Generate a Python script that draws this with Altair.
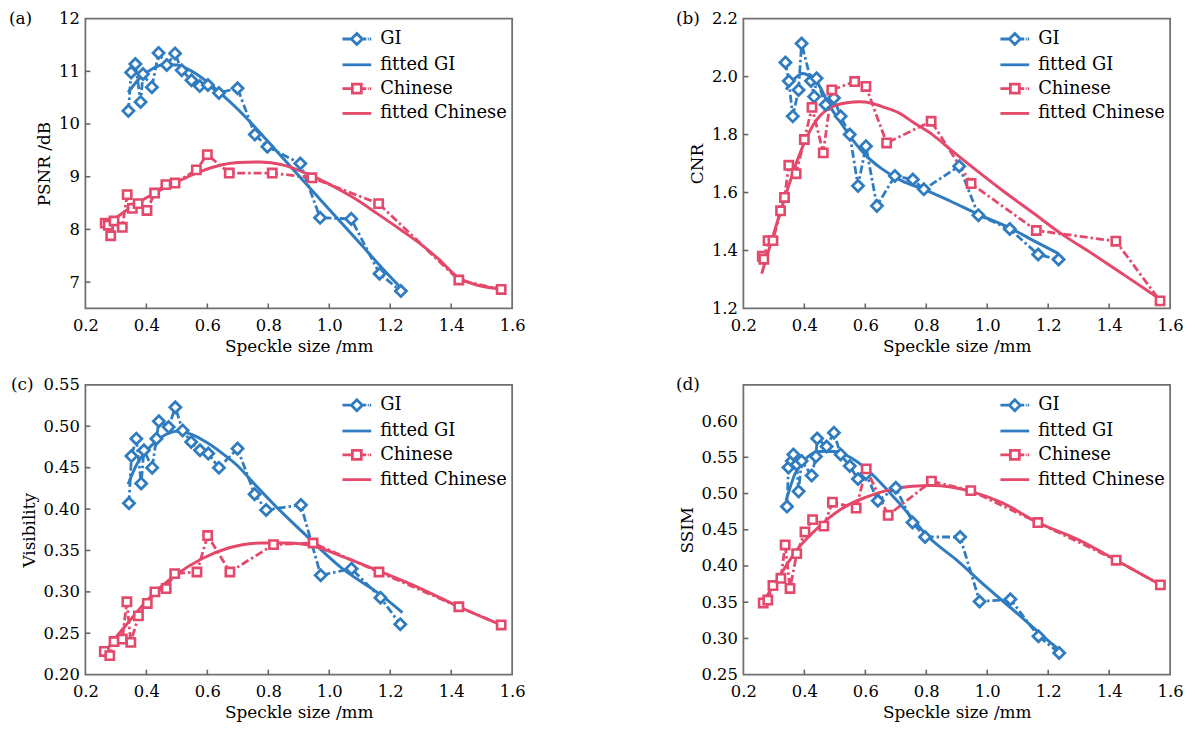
import altair as alt
import pandas as pd

BLUE = "#2f7cc0"
RED = "#e4486a"
FONT = "DejaVu Serif"
SERIES = ["GI", "fitted GI", "Chinese", "fitted Chinese"]
X_TICKS = [0.2, 0.4, 0.6, 0.8, 1.0, 1.2, 1.4, 1.6]

# ---------------- (a) PSNR ----------------
a_gi_x = [0.341, 0.350, 0.364, 0.381, 0.389, 0.418, 0.440, 0.467, 0.494, 0.516, 0.548,
          0.575, 0.602, 0.638, 0.699, 0.756, 0.797, 0.905, 0.970, 1.072, 1.165, 1.235]
a_gi_y = [10.25, 10.98, 11.14, 10.42, 10.95, 10.70, 11.35, 11.12, 11.34, 11.02, 10.83,
          10.72, 10.74, 10.59, 10.68, 9.80, 9.57, 9.25, 8.22, 8.20, 7.16, 6.83]
a_cn_x = [0.265, 0.275, 0.283, 0.294, 0.321, 0.337, 0.354, 0.373, 0.402, 0.427, 0.464,
          0.494, 0.564, 0.600, 0.672, 0.813, 0.943, 1.162, 1.425, 1.564]
a_cn_y = [8.12, 8.08, 7.88, 8.16, 8.04, 8.66, 8.40, 8.49, 8.36, 8.69, 8.85,
          8.88, 9.13, 9.42, 9.07, 9.07, 8.98, 8.49, 7.04, 6.86]
a_fgi_x = [0.34, 0.38, 0.42, 0.46, 0.50, 0.55, 0.60, 0.65, 0.70, 0.75, 0.80, 0.90, 1.00, 1.10, 1.20, 1.24]
a_fgi_y = [10.60, 10.88, 11.05, 11.13, 11.12, 11.00, 10.80, 10.55, 10.28, 9.98, 9.66, 9.02, 8.38, 7.74, 7.10, 6.86]
a_fcn_x = [0.265, 0.30, 0.35, 0.40, 0.45, 0.50, 0.56, 0.63, 0.70, 0.77, 0.85, 0.93, 1.00, 1.08,
           1.16, 1.24, 1.30, 1.36, 1.42, 1.48, 1.57]
a_fcn_y = [8.08, 8.22, 8.42, 8.60, 8.76, 8.90, 9.06, 9.20, 9.27, 9.28, 9.22, 9.05, 8.86, 8.60,
           8.29, 7.97, 7.72, 7.43, 7.10, 6.95, 6.87]

# ---------------- (b) CNR ----------------
b_gi_x = [0.338, 0.349, 0.362, 0.381, 0.391, 0.422, 0.432, 0.440, 0.470, 0.497, 0.519, 0.549,
          0.576, 0.602, 0.638, 0.697, 0.756, 0.792, 0.908, 0.971, 1.074, 1.167, 1.234]
b_gi_y = [2.049, 1.985, 1.863, 1.954, 2.114, 1.985, 1.931, 1.994, 1.903, 1.926, 1.863, 1.800,
          1.623, 1.760, 1.554, 1.657, 1.645, 1.611, 1.691, 1.522, 1.474, 1.386, 1.369]
b_cn_x = [0.262, 0.267, 0.281, 0.297, 0.322, 0.335, 0.349, 0.373, 0.400, 0.425, 0.462, 0.490,
          0.565, 0.602, 0.670, 0.816, 0.947, 1.161, 1.422, 1.567]
b_cn_y = [1.380, 1.370, 1.434, 1.434, 1.537, 1.583, 1.694, 1.665, 1.783, 1.894, 1.737, 1.954,
          1.983, 1.966, 1.771, 1.846, 1.631, 1.469, 1.432, 1.226]
b_fgi_x = [0.34, 0.37, 0.395, 0.42, 0.44, 0.48, 0.52, 0.56, 0.60, 0.65, 0.72, 0.79, 0.88, 0.97, 1.07, 1.15, 1.234]
b_fgi_y = [1.955, 1.995, 2.011, 2.000, 1.983, 1.905, 1.840, 1.780, 1.730, 1.685, 1.640, 1.612,
           1.570, 1.525, 1.480, 1.435, 1.389]
b_fcn_x = [0.26, 0.30, 0.34, 0.38, 0.43, 0.48, 0.54, 0.58, 0.62, 0.66, 0.71, 0.76, 0.82, 0.88,
           0.97, 1.05, 1.15, 1.24, 1.35, 1.45, 1.57]
b_fcn_y = [1.320, 1.460, 1.595, 1.720, 1.835, 1.890, 1.910, 1.913, 1.908, 1.895, 1.875, 1.840,
           1.800, 1.748, 1.672, 1.607, 1.530, 1.460, 1.385, 1.315, 1.230]

# ---------------- (c) Visibility ----------------
c_gi_x = [0.343, 0.351, 0.367, 0.383, 0.392, 0.419, 0.433, 0.441, 0.473, 0.495, 0.519, 0.547,
          0.576, 0.603, 0.638, 0.699, 0.755, 0.793, 0.907, 0.972, 1.073, 1.168, 1.233]
c_gi_y = [0.407, 0.464, 0.485, 0.431, 0.471, 0.450, 0.485, 0.506, 0.499, 0.523, 0.495, 0.481,
          0.471, 0.467, 0.450, 0.473, 0.418, 0.399, 0.405, 0.320, 0.328, 0.293, 0.261]
c_cn_x = [0.262, 0.280, 0.294, 0.321, 0.336, 0.349, 0.374, 0.403, 0.428, 0.465, 0.493, 0.566,
          0.601, 0.674, 0.817, 0.947, 1.163, 1.425, 1.564]
c_cn_y = [0.228, 0.223, 0.240, 0.243, 0.288, 0.239, 0.271, 0.286, 0.300, 0.304, 0.322, 0.324,
          0.368, 0.324, 0.357, 0.359, 0.324, 0.282, 0.260]
c_fgi_x = [0.34, 0.37, 0.40, 0.45, 0.50, 0.55, 0.60, 0.65, 0.70, 0.75, 0.82, 0.91, 1.04, 1.17, 1.24]
c_fgi_y = [0.430, 0.455, 0.470, 0.487, 0.494, 0.490, 0.480, 0.467, 0.452, 0.432, 0.405, 0.373,
           0.329, 0.296, 0.275]
c_fcn_x = [0.262, 0.30, 0.343, 0.408, 0.495, 0.582, 0.669, 0.777, 0.864, 0.95, 1.048, 1.157,
           1.30, 1.425, 1.564]
c_fcn_y = [0.226, 0.245, 0.264, 0.292, 0.320, 0.340, 0.353, 0.359, 0.359, 0.355, 0.342, 0.326,
           0.304, 0.282, 0.260]

# ---------------- (d) SSIM ----------------
d_gi_x = [0.343, 0.348, 0.359, 0.364, 0.375, 0.381, 0.391, 0.424, 0.438, 0.442, 0.473, 0.497,
          0.519, 0.549, 0.576, 0.602, 0.641, 0.700, 0.755, 0.796, 0.911, 0.975, 1.076, 1.168, 1.236]
d_gi_y = [0.482, 0.536, 0.545, 0.554, 0.540, 0.503, 0.545, 0.525, 0.551, 0.576, 0.565, 0.584,
          0.554, 0.538, 0.520, 0.527, 0.490, 0.508, 0.460, 0.440, 0.440, 0.351, 0.354, 0.303, 0.280]
d_cn_x = [0.265, 0.280, 0.297, 0.323, 0.337, 0.353, 0.375, 0.402, 0.427, 0.464, 0.492, 0.570,
          0.603, 0.675, 0.817, 0.946, 1.166, 1.423, 1.568]
d_cn_y = [0.349, 0.353, 0.373, 0.383, 0.429, 0.369, 0.417, 0.447, 0.464, 0.455, 0.488, 0.480,
          0.534, 0.470, 0.517, 0.504, 0.460, 0.408, 0.374]
d_fgi_x = [0.34, 0.37, 0.40, 0.45, 0.50, 0.55, 0.60, 0.65, 0.70, 0.75, 0.80, 0.90, 1.00, 1.10, 1.20, 1.24]
d_fgi_y = [0.490, 0.528, 0.546, 0.558, 0.558, 0.550, 0.535, 0.515, 0.492, 0.468, 0.443, 0.408,
           0.370, 0.334, 0.297, 0.283]
d_fcn_x = [0.265, 0.32, 0.375, 0.43, 0.483, 0.538, 0.603, 0.668, 0.754, 0.82, 0.88, 0.946,
           1.05, 1.166, 1.30, 1.423, 1.568]
d_fcn_y = [0.350, 0.387, 0.422, 0.447, 0.467, 0.483, 0.495, 0.504, 0.510, 0.511, 0.509, 0.503,
           0.487, 0.460, 0.436, 0.408, 0.374]

W, H = 430, 292

GI_PATH = "M-1.45,0L-0.55,0M0,-0.55L0.55,0L0,0.55L-0.55,0ZM0.55,0L0.95,0M1.1,0L1.2,0M1.3,0L1.45,0"
CN_PATH = "M-1.45,0L-0.45,0M-0.45,-0.45L0.45,-0.45L0.45,0.45L-0.45,0.45ZM0.45,0L0.95,0M1.1,0L1.2,0M1.3,0L1.45,0"
LINE_PATH = "M-1.45,0L1.45,0"


def frame(xs, ys):
    return pd.DataFrame({"x": xs, "y": ys, "i": list(range(len(xs)))})


def panel(letter, letter_x, ytitle, ydom, yticks, yfmt, gi, cn, fgi, fcn):
    xscale = alt.Scale(domain=[0.2, 1.6], nice=False, zero=False)
    yscale = alt.Scale(domain=ydom, nice=False, zero=False)
    xaxis = alt.Axis(title="Speckle size /mm", values=X_TICKS, format=".1f", ticks=False,
                     domain=False, grid=False, labelFlush=False, labelOverlap=False,
                     labelFont=FONT, labelFontSize=16.5, labelColor="black", labelPadding=9,
                     titleFont=FONT, titleFontSize=17, titleFontWeight="normal",
                     titleColor="black", titlePadding=5)
    yaxis = alt.Axis(title=ytitle, values=yticks, format=yfmt, ticks=False, domain=False,
                     grid=False, labelFlush=False, labelOverlap=False,
                     labelFont=FONT, labelFontSize=16.5, labelColor="black", labelPadding=6,
                     titleFont=FONT, titleFontSize=17, titleFontWeight="normal",
                     titleColor="black", titlePadding=5)
    X = alt.X("x:Q", scale=xscale, axis=xaxis)
    Y = alt.Y("y:Q", scale=yscale, axis=yaxis)

    gi_df, cn_df, fgi_df, fcn_df = frame(*gi), frame(*cn), frame(*fgi), frame(*fcn)

    dash = [8, 3, 2.5, 3]
    gi_line = alt.Chart(gi_df).mark_line(color=BLUE, strokeWidth=2.8, strokeDash=dash).encode(
        x=X, y=Y, order="i:Q")
    cn_line = alt.Chart(cn_df).mark_line(color=RED, strokeWidth=2.8, strokeDash=dash).encode(
        x=X, y=Y, order="i:Q")
    fgi_line = alt.Chart(fgi_df).mark_line(color=BLUE, strokeWidth=3, interpolate="monotone").encode(
        x=X, y=Y, order="i:Q")
    fcn_line = alt.Chart(fcn_df).mark_line(color=RED, strokeWidth=3, interpolate="monotone").encode(
        x=X, y=Y, order="i:Q")
    gi_pts = alt.Chart(gi_df).mark_point(shape="diamond", size=125, filled=True, fill="white",
                                         stroke=BLUE, strokeWidth=2.8, opacity=1).encode(x=X, y=Y)
    cn_pts = alt.Chart(cn_df).mark_point(shape="square", size=70, filled=True, fill="white",
                                         stroke=RED, strokeWidth=2.6, opacity=1).encode(x=X, y=Y)

    leg_df = pd.DataFrame({"series": SERIES,
                           "x": [gi[0][0], fgi[0][0], cn[0][0], fcn[0][0]],
                           "y": [gi[1][0], fgi[1][0], cn[1][0], fcn[1][0]]})
    legend = alt.Legend(title=None, orient="none", legendX=262, legendY=9, padding=0,
                        labelFont=FONT, labelFontSize=18, labelColor="black", labelLimit=0,
                        symbolSize=400, symbolStrokeWidth=2.8, symbolOpacity=1,
                        labelOffset=12, rowPadding=3)
    leg = alt.Chart(leg_df).mark_point(opacity=0, filled=False, strokeWidth=2.5).encode(
        x=X, y=Y,
        color=alt.Color("series:N", scale=alt.Scale(domain=SERIES, range=[BLUE, BLUE, RED, RED]),
                        legend=legend),
        shape=alt.Shape("series:N", scale=alt.Scale(domain=SERIES,
                                                    range=[GI_PATH, LINE_PATH, CN_PATH, LINE_PATH]),
                        legend=legend),
    )

    xt = pd.DataFrame({"x": X_TICKS[1:-1]})
    yt = pd.DataFrame({"y": yticks[1:-1] if yticks[0] == ydom[0] else yticks[:-1]})
    xticks = alt.Chart(xt).mark_rule(color="#666666", strokeWidth=1.6).encode(
        x=X, y=alt.value(H), y2=alt.value(H - 5))
    yticks_l = alt.Chart(yt).mark_rule(color="#666666", strokeWidth=1.6).encode(
        y=Y, x=alt.value(0), x2=alt.value(5))

    lab = alt.Chart(pd.DataFrame({"t": [letter]})).mark_text(
        font=FONT, fontSize=17, align="left", baseline="middle", color="black").encode(
        text="t:N", x=alt.value(letter_x), y=alt.value(0))

    return alt.layer(xticks, yticks_l, gi_line, cn_line, fgi_line, fcn_line, gi_pts, cn_pts,
                     leg, lab).properties(width=W, height=H)


pa = panel("(a)", -77, "PSNR /dB", [6.5, 12], [7, 8, 9, 10, 11, 12], "d",
           (a_gi_x, a_gi_y), (a_cn_x, a_cn_y), (a_fgi_x, a_fgi_y), (a_fcn_x, a_fcn_y))
pb = panel("(b)", -68, "CNR", [1.2, 2.2], [1.2, 1.4, 1.6, 1.8, 2.0, 2.2], ".1f",
           (b_gi_x, b_gi_y), (b_cn_x, b_cn_y), (b_fgi_x, b_fgi_y), (b_fcn_x, b_fcn_y))
pc = panel("(c)", -75, "Visibility", [0.2, 0.55],
           [0.20, 0.25, 0.30, 0.35, 0.40, 0.45, 0.50, 0.55], ".2f",
           (c_gi_x, c_gi_y), (c_cn_x, c_cn_y), (c_fgi_x, c_fgi_y), (c_fcn_x, c_fcn_y))
pd_ = panel("(d)", -68, "SSIM", [0.25, 0.65],
            [0.25, 0.30, 0.35, 0.40, 0.45, 0.50, 0.55, 0.60], ".2f",
            (d_gi_x, d_gi_y), (d_cn_x, d_cn_y), (d_fgi_x, d_fgi_y), (d_fcn_x, d_fcn_y))

row1 = alt.hconcat(pa, pb, spacing=149).resolve_scale(
    x="independent", y="independent", color="independent", shape="independent"
).resolve_legend(color="independent", shape="independent")
row2 = alt.hconcat(pc, pd_, spacing=149).resolve_scale(
    x="independent", y="independent", color="independent", shape="independent"
).resolve_legend(color="independent", shape="independent")

chart = alt.vconcat(row1, row2, spacing=19).resolve_scale(
    x="independent", y="independent", color="independent", shape="independent"
).resolve_legend(
    color="independent", shape="independent"
).properties(
    padding={"left": 0, "top": -2, "right": 2, "bottom": 2},
    background="white"
).configure_view(
    stroke="#707070", strokeWidth=1.8
)

chart.save("out.html", embed_options={"renderer": "svg", "actions": False})
